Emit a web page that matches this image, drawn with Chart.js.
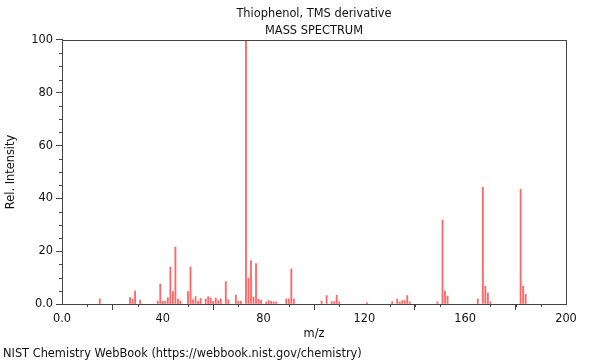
<!DOCTYPE html>
<html>
<head>
<meta charset="utf-8">
<script src="https://cdn.jsdelivr.net/npm/chart.js@4"></script>
<style>
    body { margin: 0; background: #fff; }
    #wrap { position: relative; width: 600px; height: 360px; }
    #footer {
        position: absolute; left: 3px; top: 346px;
        font: 11.4px "DejaVu Sans", sans-serif; color: #111;
    }
</style>
</head>
<body>
<div id="wrap">
    <canvas id="spectrum" width="600" height="360"></canvas>
    <div id="footer">NIST Chemistry WebBook (https://webbook.nist.gov/chemistry)</div>
</div>
<script>
// peaks
const mz = [15, 27, 28, 29, 31, 38, 39, 40, 41, 42, 43, 44, 45, 46, 47,
    50, 51, 52, 53, 54, 55, 57, 58, 59, 60, 61, 62, 63, 65, 66, 69, 70, 71,
    73, 74, 75, 76, 77, 78, 79, 81, 82, 83, 84, 85, 89, 90, 91, 92,
    103, 105, 107, 108, 109, 110, 121, 131, 133, 134, 135, 136, 137, 138,
    149, 151, 152, 153, 165, 167, 168, 169, 170, 182, 183, 184];
const intensity = [1.9, 2.4, 1.9, 4.9, 1.5, 1.1, 7.6, 1.0, 1.1, 2.4, 14.0, 4.7, 21.6, 1.9, 1.1,
    4.7, 14.0, 1.6, 2.8, 1.0, 2.1, 1.9, 2.8, 2.3, 1.0, 2.3, 1.3, 1.9, 8.5, 1.6, 3.4, 1.0, 1.0,
    100, 9.8, 16.4, 2.7, 15.3, 1.8, 1.4, 0.8, 1.3, 1.0, 0.8, 0.8, 1.9, 1.9, 13.3, 1.9,
    1.1, 3.2, 0.9, 0.9, 3.3, 0.8, 0.5, 0.9, 1.9, 0.8, 1.3, 1.3, 3.2, 0.8,
    0.8, 31.8, 4.9, 3.0, 1.9, 44.2, 6.8, 4.2, 0.8, 43.4, 6.8, 3.7];
const xTicks = [0, 40, 80, 120, 160, 200];
const yTicks = [0, 20, 40, 60, 80, 100];

const axisColor = '#444';
const fontFamily = '"DejaVu Sans", sans-serif';
const fontSize = 11.4;

// minor ticks + the box round the plot
const framePlugin = {
    id: 'frame',
    afterDraw(chart) {
        const ctx = chart.ctx;
        const area = chart.chartArea;
        const xs = chart.scales.x, ys = chart.scales.y;
        ctx.save();
        ctx.strokeStyle = axisColor;
        ctx.lineWidth = 1;
        ctx.beginPath();
        for (let v = 0; v <= 200; v += 10) {
            if (v % 40 === 0) continue;
            const px = Math.round(xs.getPixelForValue(v)) + 0.5;
            ctx.moveTo(px, area.bottom);
            ctx.lineTo(px, area.bottom + 3);
        }
        for (let v = 0; v <= 100; v += 5) {
            if (v % 20 === 0) continue;
            const py = Math.round(ys.getPixelForValue(v)) + 0.5;
            ctx.moveTo(area.left, py);
            ctx.lineTo(area.left - 3, py);
        }
        ctx.stroke();
        ctx.strokeRect(Math.round(area.left) + 0.5, Math.round(area.top) + 0.5,
            Math.round(area.right - area.left), Math.round(area.bottom - area.top));
        ctx.restore();
    }
};

const points = mz.map((m, i) => ({ x: m, y: intensity[i] }));

const ctx = document.getElementById('spectrum').getContext('2d');
new Chart(ctx, {
    type: 'bar',
    data: {
        datasets: [{
            data: points,
            backgroundColor: 'rgba(255, 40, 40, 0.7)',
            barThickness: 1.2,
            borderWidth: 0
        }]
    },
    options: {
        responsive: false,
        animation: false,
        layout: { padding: { top: 0, right: 34, bottom: 18, left: 0 } },
        plugins: {
            legend: { display: false },
            tooltip: { enabled: false },
            title: {
                display: true,
                fullSize: false,
                text: ['Thiophenol, TMS derivative', 'MASS SPECTRUM'],
                color: '#111',
                font: { family: fontFamily, size: fontSize, weight: 'normal', lineHeight: 1.49 },
                padding: { top: 5.5, bottom: 0.5 }
            }
        },
        scales: {
            x: {
                type: 'linear',
                min: 0,
                max: 200,
                offset: false,
                afterBuildTicks: (scale) => { scale.ticks = xTicks.map(v => ({ value: v })); },
                afterFit: (scale) => { scale.height = 38; },
                ticks: {
                    color: '#111',
                    font: { family: fontFamily, size: fontSize },
                    padding: 2,
                    maxRotation: 0,
                    callback: (v) => v === 0 ? '0.0' : String(v)
                },
                grid: { drawOnChartArea: false, tickLength: 6, tickColor: axisColor },
                border: { color: axisColor },
                title: {
                    display: true,
                    text: 'm/z',
                    color: '#111',
                    font: { family: fontFamily, size: fontSize },
                    padding: { top: 2, bottom: 1 }
                }
            },
            y: {
                min: 0,
                max: 100,
                afterBuildTicks: (scale) => { scale.ticks = yTicks.map(v => ({ value: v })); },
                afterFit: (scale) => { scale.width = 62; },
                ticks: {
                    color: '#111',
                    font: { family: fontFamily, size: fontSize },
                    padding: 3,
                    callback: (v) => v === 0 ? '0.0' : String(v)
                },
                grid: { drawOnChartArea: false, tickLength: 6, tickColor: axisColor },
                border: { color: axisColor },
                title: {
                    display: true,
                    text: 'Rel. Intensity',
                    color: '#111',
                    font: { family: fontFamily, size: fontSize },
                    padding: { top: 4, bottom: 2 }
                }
            }
        }
    },
    plugins: [framePlugin]
});
</script>
</body>
</html>
